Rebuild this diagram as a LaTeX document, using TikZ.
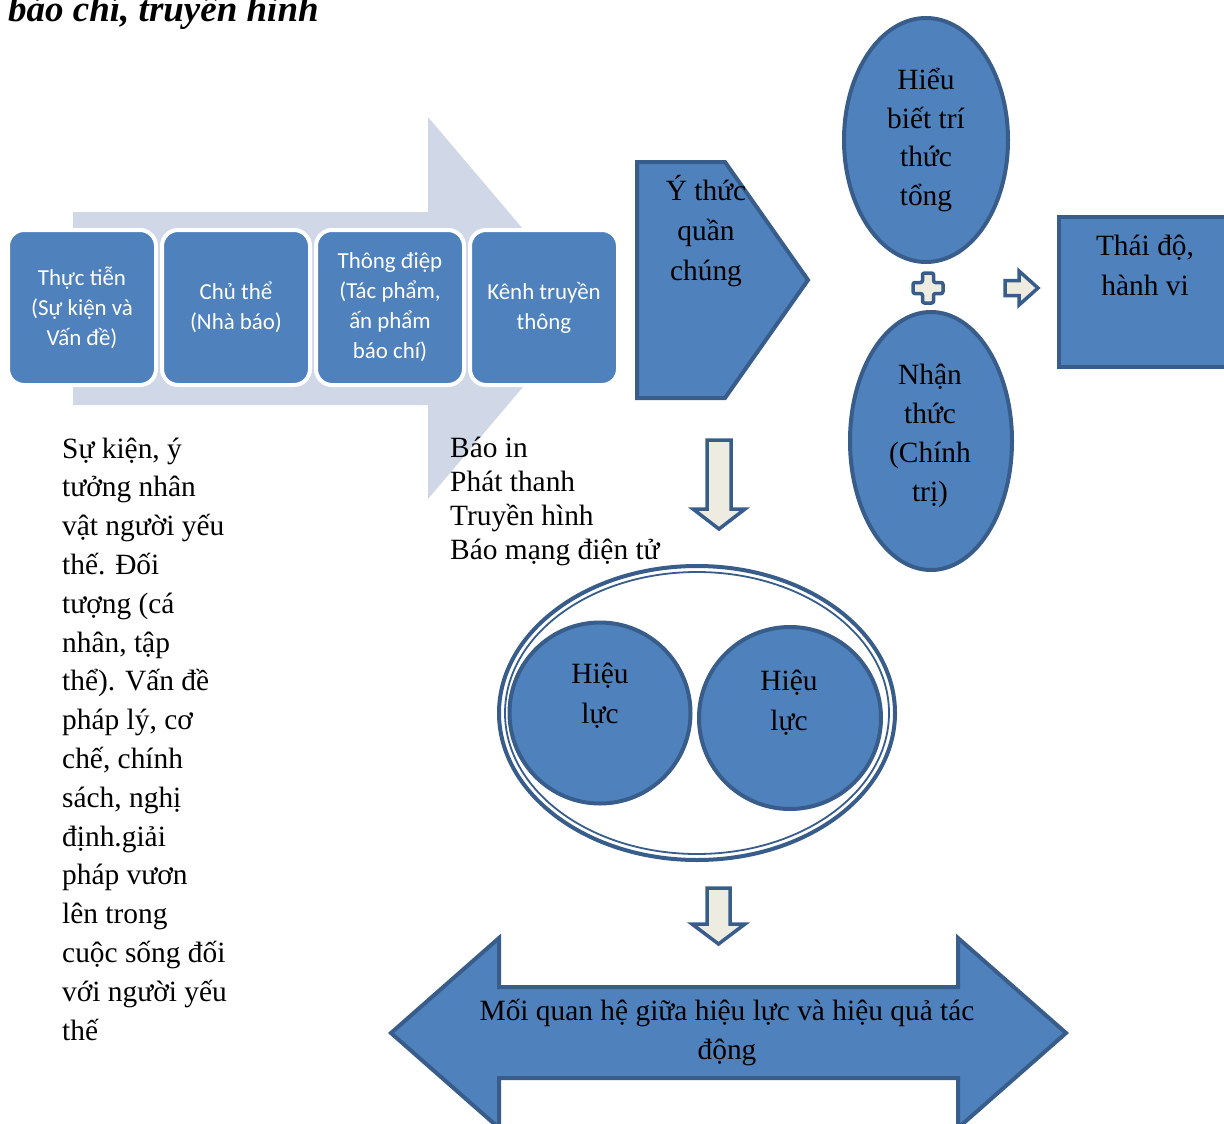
\documentclass[tikz,border=0pt]{standalone}
\usepackage{fontspec}
\setmainfont{Liberation Serif}
\newfontfamily\boxfont{Carlito}
\usetikzlibrary{positioning,shapes.geometric}
\definecolor{accent}{HTML}{4F81BD}
\definecolor{accentdark}{HTML}{385D8A}
\definecolor{band}{HTML}{D0D8E8}
\definecolor{paper}{HTML}{EEECE1}
\tikzset{
  stage/.style={rounded corners=16pt, fill=accent, draw=white, line width=4pt, text=white,
    font=\boxfont\fontsize{22.9}{30}\selectfont, align=center, inner sep=0pt,
    minimum width=148pt, minimum height=155pt},
  blob/.style={fill=accent, draw=accentdark, line width=4pt},
  hollow/.style={fill=paper, draw=accentdark, line width=3.5pt},
  body/.style={font=\fontsize{29.4}{38.8}\selectfont, inner sep=0pt, align=center},
  wide/.style={font=\fontsize{29.4}{40}\selectfont},
}
\begin{document}
\begin{tikzpicture}[x=1pt, y=-1pt]
	\useasboundingbox (0,0) rectangle (1224,1124);
	\clip (0,0) rectangle (1224,1124);
	\node[anchor=base west, inner sep=0pt, font=\fontsize{37}{40}\selectfont\bfseries\itshape] (heading) at (8,22) {báo chí, truyền hình};
	% flow band and the four stages
	\fill[band] (73,212) -- (428,212) -- (428,117) -- (590,308) -- (428,499) -- (428,405) -- (73,405) -- cycle;
	\node[stage, anchor=north west] (practice) at (6,228) {Thực tiễn\\(Sự kiện và\\Vấn đề)};
	\node[stage, right=2pt of practice] (journalist) {Chủ thể\\(Nhà báo)};
	\node[stage, right=2pt of journalist] (message) {Thông điệp\\(Tác phẩm,\\ấn phẩm\\báo chí)};
	\node[stage, right=2pt of message] (channel) {Kênh truyền\\thông};
	\foreach \line [count=\i from 0] in {{Sự kiện, ý},{tưởng nhân},{vật người yếu},{thế. Đối},{tượng (cá},{nhân, tập},{thể). Vấn đề},{pháp lý, cơ},{chế, chính},{sách, nghị},{định.giải},{pháp vươn},{lên trong},{cuộc sống đối},{với người yếu},{thế}}
		\node[body, anchor=base west] (note-\i) at (62,{458+38.8*\i}) {\line};
	\foreach \line [count=\i from 0] in {Báo in,Phát thanh,Truyền hình,Báo mạng điện tử}
		\node[body, anchor=base west] (media-\i) at (450,{457+34*\i}) {\line};
	% public awareness
	\draw[blob] (637,162) -- (725,162) -- (808,280) -- (725,398) -- (637,398) -- cycle;
	\node[body, wide] (mass) at (706,231) {Ý thức\\quần\\chúng};
	\draw[hollow] (707,440) -- (731,440) -- (731,509) -- (745,509) -- (719,529) -- (693,509) -- (707,509) -- cycle;
	% knowledge + perception => attitude
	\node[blob, ellipse, minimum width=164pt, minimum height=244pt] (knowledge) at (926,140) {};
	\node[body] (knowledge-text) at (926,140) {Hiểu\\biết trí\\thức\\tổng};
	\node[blob, ellipse, minimum width=162pt, minimum height=258pt] (perception) at (931,441) {};
	\node[body] (perception-text) at (930,436) {Nhận\\thức\\(Chính\\trị)};
	\draw[hollow, rounded corners=2pt, shift={(928,288)}] (-5.5,-15) -- (5.5,-15) -- (5.5,-5.5) -- (15,-5.5) -- (15,5.5) -- (5.5,5.5) -- (5.5,15) -- (-5.5,15) -- (-5.5,5.5) -- (-15,5.5) -- (-15,-5.5) -- (-5.5,-5.5) -- cycle;
	\draw[hollow] (1005,280.5) -- (1019,280.5) -- (1019,271) -- (1038,288) -- (1019,305) -- (1019,295.5) -- (1005,295.5) -- cycle;
	\draw[blob] (1059,217) rectangle (1240,367);
	\node[body, wide] (attitude) at (1145,265) {Thái độ,\\hành vi};
	% effect
	\node[ellipse, draw=accentdark, line width=4pt, fill=white, minimum width=396pt, minimum height=294pt] (pool) at (697,713) {};
	\draw[accentdark, line width=1.8pt] (pool.center) ellipse [x radius=192, y radius=141];
	\node[blob, circle, minimum size=181pt] (force-left) at (600,713) {};
	\node[blob, circle, minimum size=182pt] (force-right) at (790,718) {};
	\node[body, wide] (force-left-text) at (600,696) {Hiệu\\lực};
	\node[body, wide] (force-right-text) at (789,703) {Hiệu\\lực};
	\draw[hollow] (707,888) -- (730,888) -- (730,924) -- (745,924) -- (718.5,944) -- (692,924) -- (707,924) -- cycle;
	\draw[blob] (391,1033) -- (499,938) -- (499,987) -- (958,987) -- (958,938) -- (1066,1033) -- (958,1128) -- (958,1078) -- (499,1078) -- (499,1128) -- cycle;
	\node[body, font=\fontsize{29.4}{39}\selectfont] (relation) at (727,1033) {Mối quan hệ giữa hiệu lực và hiệu quả tác\\động};
\end{tikzpicture}
\end{document}
